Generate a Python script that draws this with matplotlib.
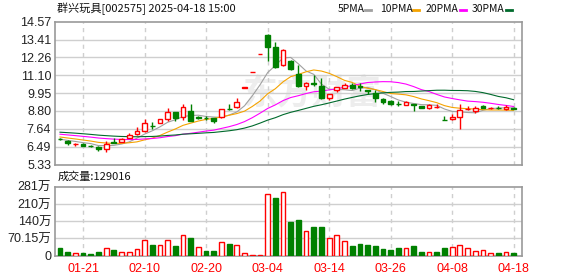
import numpy as np
import pandas as pd
import matplotlib
matplotlib.use("Agg")
import matplotlib.pyplot as plt
from matplotlib.lines import Line2D

plt.rcParams['font.family'] = ['Liberation Sans', 'Noto Sans CJK SC']

dates = ['01-16', '01-17', '01-20', '01-21', '01-22', '01-23', '01-24', '01-27',
         '02-05', '02-06', '02-07', '02-10', '02-11', '02-12', '02-13', '02-14',
         '02-17', '02-18', '02-19', '02-20', '02-21', '02-24', '02-25', '02-26',
         '02-27', '02-28', '03-03', '03-04', '03-05', '03-06', '03-07', '03-10',
         '03-11', '03-12', '03-13', '03-14', '03-17', '03-18', '03-19', '03-20',
         '03-21', '03-24', '03-25', '03-26', '03-27', '03-28', '03-31', '04-01',
         '04-02', '04-03', '04-07', '04-08', '04-09', '04-10', '04-11', '04-14',
         '04-15', '04-16', '04-17', '04-18']

opens = [7.02, 6.87, 6.66, 6.69, 6.57, 6.50, 6.33, 6.80, 6.79, 7.08,
         7.30, 7.53, 7.85, 8.02, 8.30, 8.73, 8.39, 8.77, 8.41, 8.36,
         8.32, 8.39, 8.96, 9.03, 10.31, 11.34, 12.47, 13.72, 12.92, 11.75,
         12.00, 11.17, 10.40, 10.60, 10.42, 9.67, 10.14, 10.29, 10.46, 10.40,
         10.16, 9.97, 9.56, 9.45, 9.28, 9.22, 9.24, 9.11, 9.00, 9.05,
         8.24, 8.28, 8.39, 8.90, 8.81, 9.13, 8.98, 9.02, 8.92, 9.00]
closes = [6.96, 6.70, 6.68, 6.57, 6.55, 6.33, 6.68, 6.76, 7.00, 7.25,
          7.53, 8.00, 7.82, 8.28, 8.73, 8.34, 9.03, 8.17, 8.37, 8.32,
          8.15, 8.94, 8.92, 9.37, 10.31, 11.34, 12.47, 12.92, 11.64, 12.77,
          11.51, 10.40, 10.61, 10.55, 9.61, 9.87, 10.33, 10.51, 10.29, 10.36,
          10.12, 9.61, 9.35, 9.24, 9.24, 9.39, 9.20, 8.99, 9.16, 9.08,
          8.21, 8.43, 8.86, 8.93, 8.99, 9.00, 9.01, 8.99, 9.05, 8.96]
highs = [7.08, 6.90, 6.75, 6.72, 6.60, 6.57, 6.88, 7.08, 7.03, 7.36,
         7.77, 8.28, 8.11, 8.30, 8.99, 8.76, 9.24, 9.24, 8.50, 8.47,
         8.34, 8.96, 9.25, 9.63, 10.31, 11.34, 12.47, 13.80, 13.29, 12.80,
         12.10, 11.75, 10.65, 11.10, 10.96, 9.90, 10.35, 10.60, 10.60, 10.60,
         10.16, 10.14, 9.65, 9.48, 9.43, 9.42, 9.25, 9.13, 9.25, 9.27,
         8.47, 8.60, 9.26, 9.13, 9.13, 9.20, 9.05, 9.10, 9.20, 9.05]
lows = [6.92, 6.62, 6.53, 6.55, 6.47, 6.23, 6.12, 6.74, 6.77, 7.05,
        7.28, 7.45, 7.62, 8.00, 8.15, 8.18, 8.24, 8.15, 8.30, 8.20,
        8.05, 8.36, 8.85, 9.00, 10.31, 11.34, 12.47, 12.00, 11.60, 11.70,
        11.45, 10.36, 10.14, 10.40, 9.58, 9.50, 10.05, 10.27, 10.20, 10.10,
        9.90, 9.35, 9.28, 9.20, 9.10, 9.20, 8.79, 8.97, 8.95, 9.00,
        8.21, 8.21, 7.62, 8.85, 8.70, 8.97, 8.96, 8.95, 8.88, 8.92]

# closes of the 29 sessions before the window (needed for the moving averages)
prior_closes = [7.60, 7.65, 7.72, 7.80, 7.75, 7.70, 7.68, 7.66, 7.62, 7.72,
                7.62, 7.58, 7.55, 7.52, 7.48, 7.45, 7.42, 7.40, 7.40, 7.38,
                7.35, 7.30, 7.25, 7.22, 7.18, 7.10, 7.02, 6.95, 6.87]

# volume in 万
volumes = [32, 16, 12, 12, 8, 16, 32, 24, 16, 16,
           28, 65, 45, 45, 65, 41, 85, 73, 37, 20,
           20, 57, 49, 45, 12, 4, 4, 252, 236, 260,
           138, 147, 102, 118, 118, 73, 85, 61, 41, 49,
           45, 41, 28, 24, 32, 32, 41, 16, 16, 16,
           32, 37, 45, 32, 20, 24, 12, 12, 16, 12.9]
vol_up = [0, 0, 1, 0, 0, 0, 1, 0, 1, 1,
          1, 1, 0, 1, 1, 0, 1, 0, 1, 0,
          0, 1, 0, 1, 1, 1, 1, 1, 0, 1,
          0, 0, 1, 0, 0, 1, 1, 1, 0, 0,
          0, 0, 0, 0, 0, 1, 0, 0, 1, 0,
          0, 1, 1, 1, 1, 1, 1, 0, 1, 0]

price_ticks = [5.33, 6.49, 7.64, 8.80, 9.95, 11.10, 12.26, 13.41, 14.57]
vol_ticks = [0, 70.15, 140.3, 210.45, 280.6]
vol_tick_labels = ['0', '70.15万', '140万', '210万', '281万']
ma_periods = [5, 10, 20, 30]
ma_colors = ['#a0a0a0', '#f5a300', '#ff00ff', '#006a2c']

RED = '#ff0000'
GREEN = '#008000'
GRID = '#cfcfcf'
SPINE = '#999999'

n = len(closes)
x = np.arange(n)
all_closes = pd.Series(prior_closes + closes)

fig = plt.figure(figsize=(5.78, 2.76), dpi=100)
ax = fig.add_axes([0.0957, 0.4033, 0.8074, 0.518])
axv = fig.add_axes([0.0957, 0.0736, 0.8074, 0.25], sharex=ax)

# watermark
ax.text(0.55, 0.5, '东方财富', transform=ax.transAxes, fontsize=25,
        color='#ededed', ha='center', va='center', zorder=0,
        family=['Noto Sans CJK SC'], fontweight='bold')

# moving averages
for p, c in zip(ma_periods, ma_colors):
    ma = all_closes.rolling(p).mean().values[-n:]
    ax.plot(x, ma, color=c, lw=0.8, zorder=2)

# candles
w = 0.62
for i in range(n):
    o, c, h, l = opens[i], closes[i], highs[i], lows[i]
    up = c >= o
    col = RED if up else GREEN
    ax.vlines(i, l, h, color=col, lw=1.0, zorder=3)
    body = max(abs(c - o), 0.012)
    ax.bar(i, body, bottom=min(o, c), width=w,
           facecolor='white' if up else col, edgecolor=col,
           linewidth=1.0, zorder=4)

# volume
for i in range(n):
    if vol_up[i]:
        axv.bar(i, volumes[i], width=w, facecolor='white', edgecolor=RED,
                linewidth=1.0, zorder=3)
    else:
        axv.bar(i, volumes[i], width=w, facecolor=GREEN, edgecolor=GREEN,
                linewidth=1.0, zorder=3)

tick_idx = list(range(3, n, 8))
for a in (ax, axv):
    a.set_xlim(-0.61, 60.08)
    for s in a.spines.values():
        s.set_color(SPINE)
        s.set_linewidth(1.2)
    for t in tick_idx:
        a.axvline(t, color=GRID, lw=1.0, ls=(0, (3, 3)), zorder=1)
    a.tick_params(length=0, labelsize=9, colors='#222222', pad=3)

ax.set_ylim(price_ticks[0], price_ticks[-1])
ax.set_yticks(price_ticks)
ax.set_yticklabels([f'{v:.2f}' for v in price_ticks])
for v in price_ticks[1:-1]:
    ax.axhline(v, color=GRID, lw=1.0, zorder=1)
ax.tick_params(labelbottom=False)

axv.set_ylim(0, vol_ticks[-1])
axv.set_yticks(vol_ticks)
axv.set_yticklabels(vol_tick_labels)
for v in vol_ticks[1:-1]:
    axv.axhline(v, color=GRID, lw=1.0, zorder=1)
axv.set_xticks(tick_idx)
axv.set_xticklabels([dates[t] for t in tick_idx])
axv.tick_params(axis='x', colors=RED, pad=5)

# title and legend
fig.text(57 / 578, 1 - 9 / 276, '群兴玩具[002575] 2025-04-18 15:00', fontsize=8,
         family=['Noto Sans CJK SC'], va='center', ha='left', color='#111111')
fig.text(58 / 578, 1 - 177 / 276, '成交量:129016', fontsize=8,
         family=['Noto Sans CJK SC'], va='center', ha='left', color='#111111')

leg_text_x = [338, 380, 426, 472]
leg_line_x = [365, 413, 460, 506]
for p, c, tx, lx in zip(ma_periods, ma_colors, leg_text_x, leg_line_x):
    fig.text(tx / 578, 1 - 9 / 276, f'{p}PMA', fontsize=7.5,
             family=['Noto Sans CJK SC'], va='center', ha='left', color='#111111')
    fig.add_artist(Line2D([lx / 578, (lx + 6) / 578], [1 - 10 / 276, 1 - 10 / 276],
                          color=c, lw=2.0, transform=fig.transFigure))

fig.savefig('out.png', dpi=100)
